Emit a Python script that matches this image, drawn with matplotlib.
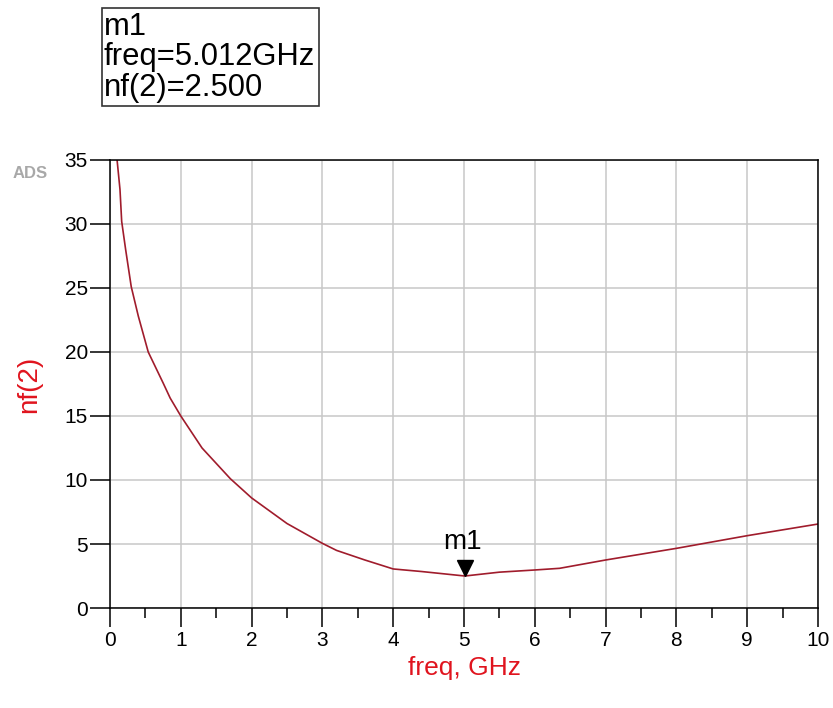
import numpy as np
import matplotlib
matplotlib.use("Agg")
import matplotlib.pyplot as plt
import matplotlib.transforms as mtransforms
from matplotlib.patches import Rectangle

plt.rcParams['font.family'] = ['Liberation Sans', 'DejaVu Sans']

# noise figure sweep, nf(2) vs frequency in GHz
freq = [0.10, 0.141, 0.165, 0.221, 0.30, 0.40, 0.54, 0.753, 0.85, 1.0, 1.3,
        1.7, 2.0, 2.5, 3.0, 3.2, 3.6, 4.0, 4.4, 5.012, 5.5, 6.0, 6.35, 7.0,
        8.0, 9.0, 10.0]
nf = [35.0, 32.7, 30.2, 28.0, 25.1, 22.8, 20.0, 17.55, 16.4, 15.0, 12.5,
      10.1, 8.6, 6.6, 5.05, 4.5, 3.75, 3.05, 2.85, 2.5, 2.8, 2.97, 3.1, 3.75,
      4.66, 5.65, 6.56]

m1_freq = 5.012
m1_nf = 2.500

W, H = 833, 708
fig = plt.figure(figsize=(W / 100, H / 100), dpi=100)
ax = fig.add_axes([110 / W, 1 - 608 / H, (818 - 110) / W, (608 - 160) / H])

ax.plot(freq, nf, color='#a01c2c', lw=1.2, zorder=3)

ax.set_xlim(0, 10)
ax.set_ylim(0, 35)
ax.set_xticks(np.arange(0, 11, 1))
ax.set_xticks(np.arange(0.5, 10, 1), minor=True)
ax.set_yticks(np.arange(0, 36, 5))
ax.grid(True, color='#c8c8c8', lw=1.1, zorder=0)
ax.set_axisbelow(True)

for s in ax.spines.values():
    s.set_color('black')
    s.set_linewidth(1.1)
    s.set_zorder(4)

ax.tick_params(axis='y', direction='out', length=14.4, width=1.1, pad=1.5,
               labelsize=15, colors='black')
ax.tick_params(axis='x', which='major', direction='out', length=13.7, width=1.1,
               pad=3, labelsize=15, colors='black')
ax.tick_params(axis='x', which='minor', direction='out', length=7.2, width=1.1)

ax.set_xlabel('freq, GHz', color='#e0141e', fontsize=19, labelpad=4)
ax.set_ylabel('nf(2)', color='#e0141e', fontsize=20, labelpad=16)

# marker m1: triangle sitting on the curve with its label above
off = mtransforms.offset_copy(ax.transData, fig=fig, x=0, y=8, units='dots')
ax.plot([m1_freq], [m1_nf], marker='v', ms=12, color='black',
        transform=off, zorder=5, clip_on=False)
lab = mtransforms.offset_copy(ax.transData, fig=fig, x=-2, y=21, units='dots')
ax.text(m1_freq, m1_nf, 'm1', transform=lab, fontsize=20, ha='center',
        va='bottom', color='black')

fig.text(13 / W, 1 - 174 / H, 'ADS', fontsize=12, fontweight='bold',
         color='#a8a8a8', va='center', ha='left')

# marker readout box
fig.patches.append(Rectangle((102 / W, 1 - 106 / H), (319 - 102) / W, (106 - 8) / H,
                             transform=fig.transFigure, fill=False,
                             edgecolor='#333333', lw=1.2))
for txt, base in [('m1', 35), ('freq=%.3fGHz' % m1_freq, 65.5),
                  ('nf(2)=%.3f' % m1_nf, 96)]:
    fig.text(104 / W, 1 - base / H, txt, fontsize=22.3, va='baseline',
             ha='left', color='black')

fig.savefig('out.png', dpi=100)
